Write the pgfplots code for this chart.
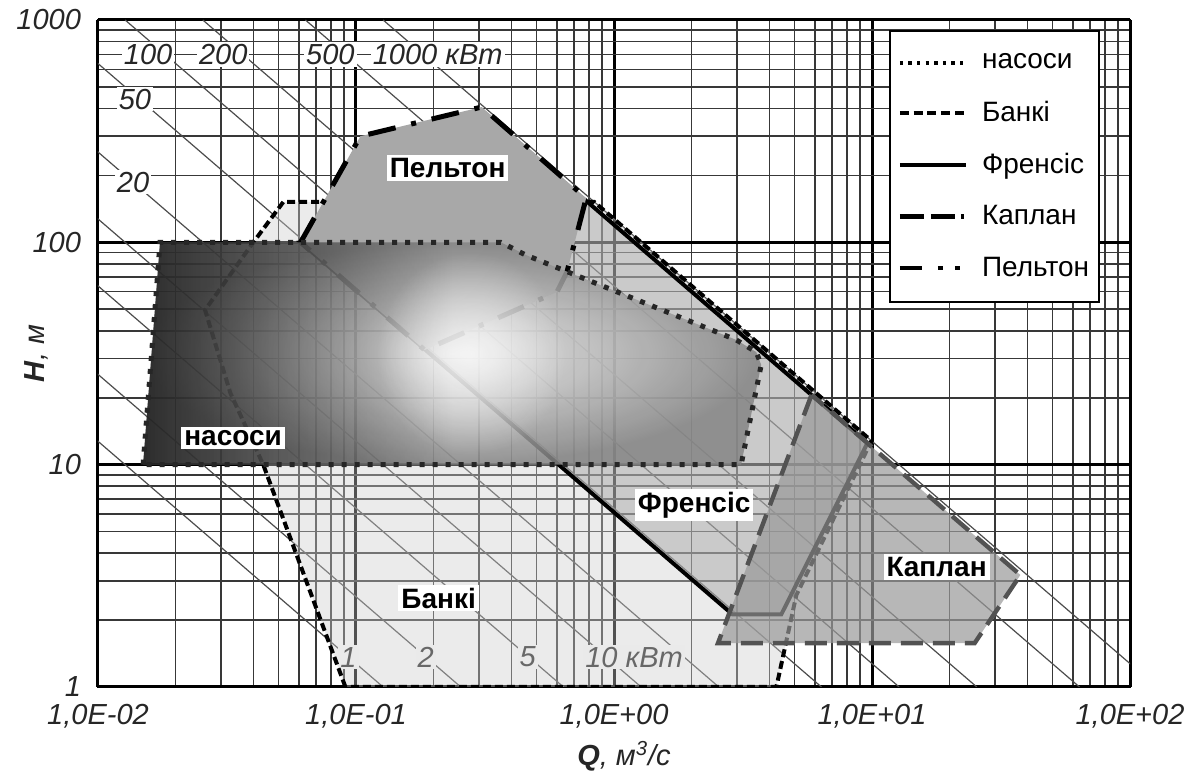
\documentclass[border=0pt]{standalone}
\usepackage{pgfplots}
\pgfplotsset{compat=1.18}
\usepackage{fontspec}
\setmainfont{Liberation Sans}
\usetikzlibrary{fadings}
\definecolor{pumpA}{rgb}{0.92,0.92,0.92}
\definecolor{pumpB}{rgb}{0.74,0.74,0.74}
\definecolor{pumpC}{rgb}{0.52,0.52,0.52}
\pgfdeclareradialshading{pumpsh}{\pgfpoint{0bp}{0bp}}{color(0bp)=(pumpA); color(12bp)=(pumpB); color(25bp)=(pumpC); color(50bp)=(pumpC)}
\tikzfading[name=leftdark, left color=transparent!30, right color=transparent!100, middle color=transparent!100]
\tikzfading[name=glow, inner color=transparent!0, outer color=transparent!100]
\tikzset{
  plin/.style={black!70, line width=0.6pt},
  plab/.style={fill=white, inner sep=1pt, font=\fontsize{14.5}{16}\selectfont\itshape, text=black!85},
  rlab/.style={fill=white, inner sep=1.5pt, font=\fontsize{14}{16}\selectfont\bfseries},
  pumpst/.style={black!85, line width=2.5pt, dash pattern=on 2.5pt off 4pt},
  bankst/.style={black, line width=2pt, dash pattern=on 4pt off 2pt},
  franst/.style={black, line width=2pt},
  kapst/.style={black!68, line width=2.2pt, dash pattern=on 11pt off 5pt},
  pelst/.style={black, line width=2.5pt, dash pattern=on 14pt off 8pt on 2.5pt off 8pt},
}
\begin{document}
\begin{tikzpicture}
\begin{axis}[
  name=ax,
  xmode=log, ymode=log,
  scale only axis, width=516pt, height=333.5pt,
  xmin=0.01, xmax=100, ymin=1, ymax=1000,
  xtick={0.01,0.1,1,10,100},
  xticklabels={{1,0E-02},{1,0E-01},{1,0E+00},{1,0E+01},{1,0E+02}},
  ytick={1,10,100,1000},
  yticklabels={1,10,100,1000},
  minor xtick={0.02,0.03,0.04,0.05,0.06,0.07,0.08,0.09,0.2,0.3,0.4,0.5,0.6,0.7,0.8,0.9,2,3,4,5,6,7,8,9,20,30,40,50,60,70,80,90},
  minor ytick={2,3,4,5,6,7,8,9,20,30,40,50,60,70,80,90,200,300,400,500,600,700,800,900},
  grid=both,
  major grid style={black, line width=1.5pt},
  minor grid style={black!78, line width=0.8pt},
  major tick length=0pt, minor tick length=0pt,
  axis line style={black, line width=1.4pt},
  tick label style={font=\fontsize{14.5}{17}\selectfont\itshape, text=black!85},
  xticklabel style={yshift=-5pt},
  yticklabel style={xshift=-5pt},
  xlabel={\textbf{\textit{Q}}\textit{, м\textsuperscript{3}/с}},
  ylabel={\textbf{\textit{H}}\textit{, м}},
  every axis x label/.style={at={([yshift=-34.5pt,xshift=5pt]rel axis cs:0.5,0)}, anchor=center, font=\fontsize{14.5}{17}\selectfont, text=black!85},
  every axis y label/.style={at={([xshift=-31pt]rel axis cs:0,0.5)}, anchor=center, rotate=90, font=\fontsize{14.5}{17}\selectfont, text=black!85},
  legend style={at={(1,1)}, anchor=north east, xshift=-15pt, yshift=-5pt, draw=black, line width=0.9pt, fill=white, font=\fontsize{14}{16}\selectfont, inner xsep=4pt, inner ysep=8.5pt, row sep=8.5pt, column sep=6pt, nodes={inner xsep=1pt, inner ysep=3pt}},
  legend cell align=left,
  legend image code/.code={\draw[#1] (0pt,0pt) -- (33pt,0pt);},
]
% constant power lines  P = 9.81*0.8*Q*H  (kW)
\addplot[plin, forget plot] coordinates {(0.0001274,1000) (0.1274,1)};
\addplot[plin, forget plot] coordinates {(0.0002548,1000) (0.2548,1)};
\addplot[plin, forget plot] coordinates {(0.000637,1000) (0.637,1)};
\addplot[plin, forget plot] coordinates {(0.001274,1000) (1.274,1)};
\addplot[plin, forget plot] coordinates {(0.002548,1000) (2.548,1)};
\addplot[plin, forget plot] coordinates {(0.00637,1000) (6.37,1)};
\addplot[plin, forget plot] coordinates {(0.01274,1000) (12.74,1)};
\addplot[plin, forget plot] coordinates {(0.02548,1000) (25.48,1)};
\addplot[plin, forget plot] coordinates {(0.0637,1000) (63.7,1)};
\addplot[plin, forget plot] coordinates {(0.1274,1000) (127.4,1)};
\node[plab] at (axis cs:0.01564,700) {100};
\node[plab] at (axis cs:0.0306,700) {200};
\node[plab] at (axis cs:0.0796,700) {500};
\node[plab] at (axis cs:0.2073,700) {1000 кВт};
\node[plab] at (axis cs:0.0139,441) {50};
\node[plab] at (axis cs:0.01367,186.7) {20};
\node[plab] at (axis cs:0.0935,1.363) {1};
\node[plab] at (axis cs:0.1862,1.363) {2};
\node[plab] at (axis cs:0.4634,1.363) {5};
\node[plab] at (axis cs:1.196,1.363) {10 кВт};
% Banki
\addplot[forget plot, bankst, fill=black!20, fill opacity=0.4] coordinates {
 (0.091,1) (0.0437,10) (0.0326,21.0) (0.026,49.6) (0.040,100) (0.0523,152)
 (0.838,152) (9.95,12.8) (5.09,2.59) (4.26,1)} -- cycle;
% Francis
\addplot[forget plot, franst, fill=black!40, fill opacity=0.4] coordinates {
 (0.061,100) (0.774,155) (9.6,12.5) (4.45,2.12) (2.88,2.12)} -- cycle;
% Kaplan
\addplot[forget plot, kapst, fill=black!40, fill opacity=0.7] coordinates {
 (5.83,20.6) (2.53,1.576) (25.0,1.576) (37.6,3.19)} -- cycle;
% Pelton
\addplot[forget plot, pelst, fill=black!34] coordinates {
 (0.061,100) (0.104,300) (0.307,406) (0.78,158) (0.657,73.5) (0.601,59.8) (0.1846,32.8)} -- cycle;
% pumps
\addplot[forget plot, draw=none, shade, shading=pumpsh, fill opacity=0.85] coordinates {
 (0.01496,10) (0.0174,100) (0.364,100) (0.455,87.7) (2.978,36.4) (3.56,32.1) (3.72,28.1) (3.11,10)} -- cycle;
\addplot[forget plot, draw=none, fill=black, path fading=leftdark] coordinates {
 (0.01496,10) (0.0174,100) (0.364,100) (0.455,87.7) (2.978,36.4) (3.56,32.1) (3.72,28.1) (3.11,10)} -- cycle;
\addplot[forget plot, draw=none, fill=white, fill opacity=0.65, path fading=glow] coordinates {
 (0.12,90) (0.65,90) (0.65,11) (0.12,11)} -- cycle;
\addplot[forget plot, pumpst] coordinates {
 (0.01496,10) (0.0174,100) (0.364,100) (0.455,87.7) (2.978,36.4) (3.56,32.1) (3.72,28.1) (3.11,10)} -- cycle;
% region labels
\node[rlab] at (axis cs:0.2266,215.9) {Пельтон};
\node[rlab] at (axis cs:0.0334,13.17) {насоси};
\node[rlab] at (axis cs:2.045,6.58) {Френсіс};
\node[rlab] at (axis cs:17.8,3.46) {Каплан};
\node[rlab] at (axis cs:0.209,2.51) {Банкі};
% legend
\addlegendimage{black, line width=1.7pt, dash pattern=on 1.7pt off 2.6pt}
\addlegendentry{насоси}
\addlegendimage{black, line width=2pt, dash pattern=on 4.5pt off 2.4pt}
\addlegendentry{Банкі}
\addlegendimage{black, line width=2pt}
\addlegendentry{Френсіс}
\addlegendimage{black, line width=2.2pt, dash pattern=on 12pt off 3.5pt on 12pt off 3pt on 1.5pt off 3pt}
\addlegendentry{Каплан}
\addlegendimage{black, line width=2.2pt, dash pattern=on 11pt off 8pt on 2.5pt off 6pt on 2.5pt off 6pt}
\addlegendentry{Пельтон}
\end{axis}
\pgfresetboundingbox
\path[use as bounding box] ([shift={(-49pt,-43.5pt)}]ax.south west) rectangle ([shift={(28pt,10pt)}]ax.north east);
\end{tikzpicture}
\end{document}
